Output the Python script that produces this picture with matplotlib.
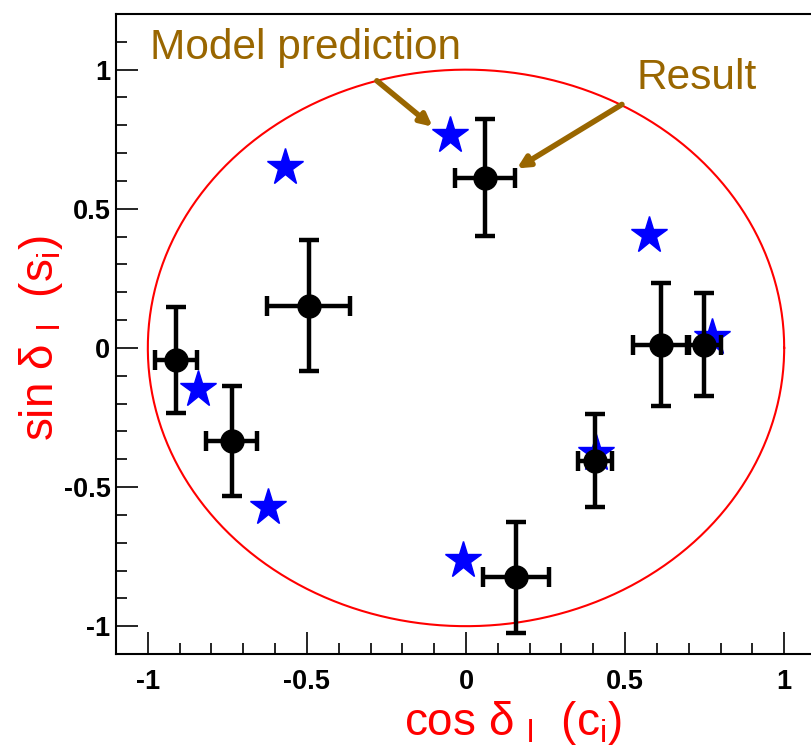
import numpy as np
import matplotlib
matplotlib.use("Agg")
import matplotlib.pyplot as plt

plt.rcParams['font.family'] = ['Liberation Sans', 'DejaVu Sans']
plt.rcParams['mathtext.fontset'] = 'custom'
plt.rcParams['mathtext.rm'] = 'Liberation Sans'
plt.rcParams['mathtext.it'] = 'Liberation Sans'

# Measured results (black points with errors)
res_c = [-0.912, -0.736, -0.494, 0.060, 0.157, 0.406, 0.613, 0.748]
res_s = [-0.043, -0.335, 0.152, 0.612, -0.824, -0.405, 0.012, 0.012]
res_c_err = [0.066, 0.080, 0.130, 0.094, 0.104, 0.053, 0.088, 0.053]
res_s_err = [0.190, 0.198, 0.235, 0.210, 0.200, 0.167, 0.222, 0.185]

# Model predictions (blue stars)
mod_c = [-0.569, -0.050, 0.575, 0.774, -0.843, -0.623, -0.009, 0.410]
mod_s = [0.651, 0.766, 0.406, 0.040, -0.147, -0.572, -0.763, -0.378]

xticks = [-1, -0.5, 0, 0.5, 1]
yticks = [-1, -0.5, 0, 0.5, 1]
xtick_labels = ['-1', '-0.5', '0', '0.5', '1']
ytick_labels = ['-1', '-0.5', '0', '0.5', '1']

W, H = 812, 749
fig = plt.figure(figsize=(W/100, H/100), dpi=100)
ax = fig.add_axes([116/W, (H-654)/H, 700/W, 640/H])
ax.set_xlim(-1.1, 1.1)
ax.set_ylim(-1.1, 1.2)

# unit circle
t = np.linspace(0, 2*np.pi, 400)
ax.plot(np.cos(t), np.sin(t), color='red', lw=1.5, zorder=1)

ax.plot(mod_c, mod_s, linestyle='none', marker='*', color='blue', markersize=28, zorder=2)

ax.errorbar(res_c, res_s, xerr=res_c_err, yerr=res_s_err, fmt='o', color='black',
            ecolor='black', elinewidth=3.2, capsize=7, capthick=3.2, markersize=16.5, zorder=3)

brown = '#996600'
ax.annotate('', xy=(-0.105, 0.795), xytext=(-0.28, 0.96),
            arrowprops=dict(arrowstyle='-|>,head_length=0.7,head_width=0.35', lw=4, color=brown, shrinkA=0, shrinkB=0),
            zorder=4)
ax.annotate('', xy=(0.16, 0.645), xytext=(0.49, 0.875),
            arrowprops=dict(arrowstyle='-|>,head_length=0.7,head_width=0.35', lw=4, color=brown, shrinkA=0, shrinkB=0),
            zorder=4)
fig.text(150/W, 1-48/H, 'Model prediction', color=brown, fontsize=30.5, ha='left', va='center')
fig.text(637/W, 1-78/H, 'Result', color=brown, fontsize=30.5, ha='left', va='center')

ax.set_xticks(xticks)
ax.set_xticklabels(xtick_labels)
ax.set_yticks(yticks)
ax.set_yticklabels(ytick_labels)
ax.set_xticks(np.arange(-1.1, 1.11, 0.1), minor=True)
ax.set_yticks(np.arange(-1.1, 1.21, 0.1), minor=True)
ax.tick_params(which='major', direction='in', length=16, width=1.2, labelsize=19.5)
ax.tick_params(axis='x', which='major', pad=11)
ax.tick_params(axis='y', which='major', pad=4)
ax.tick_params(which='minor', direction='in', length=8, width=1.2)
for lab in ax.get_xticklabels() + ax.get_yticklabels():
    lab.set_fontweight('bold')
for s in ax.spines.values():
    s.set_linewidth(1.5)

fig.text(513/W, 1-735/H, r'cos δ $_{\rm l}$  (c$_{\rm i}$)', color='red', fontsize=33, ha='center', va='baseline')
fig.text(53/W, 1-338/H, r'sin δ $_{\rm l}$  (s$_{\rm i}$)', color='red', fontsize=33, ha='center', va='baseline',
         rotation=90, rotation_mode='anchor')

fig.savefig('out.png', dpi=100)
